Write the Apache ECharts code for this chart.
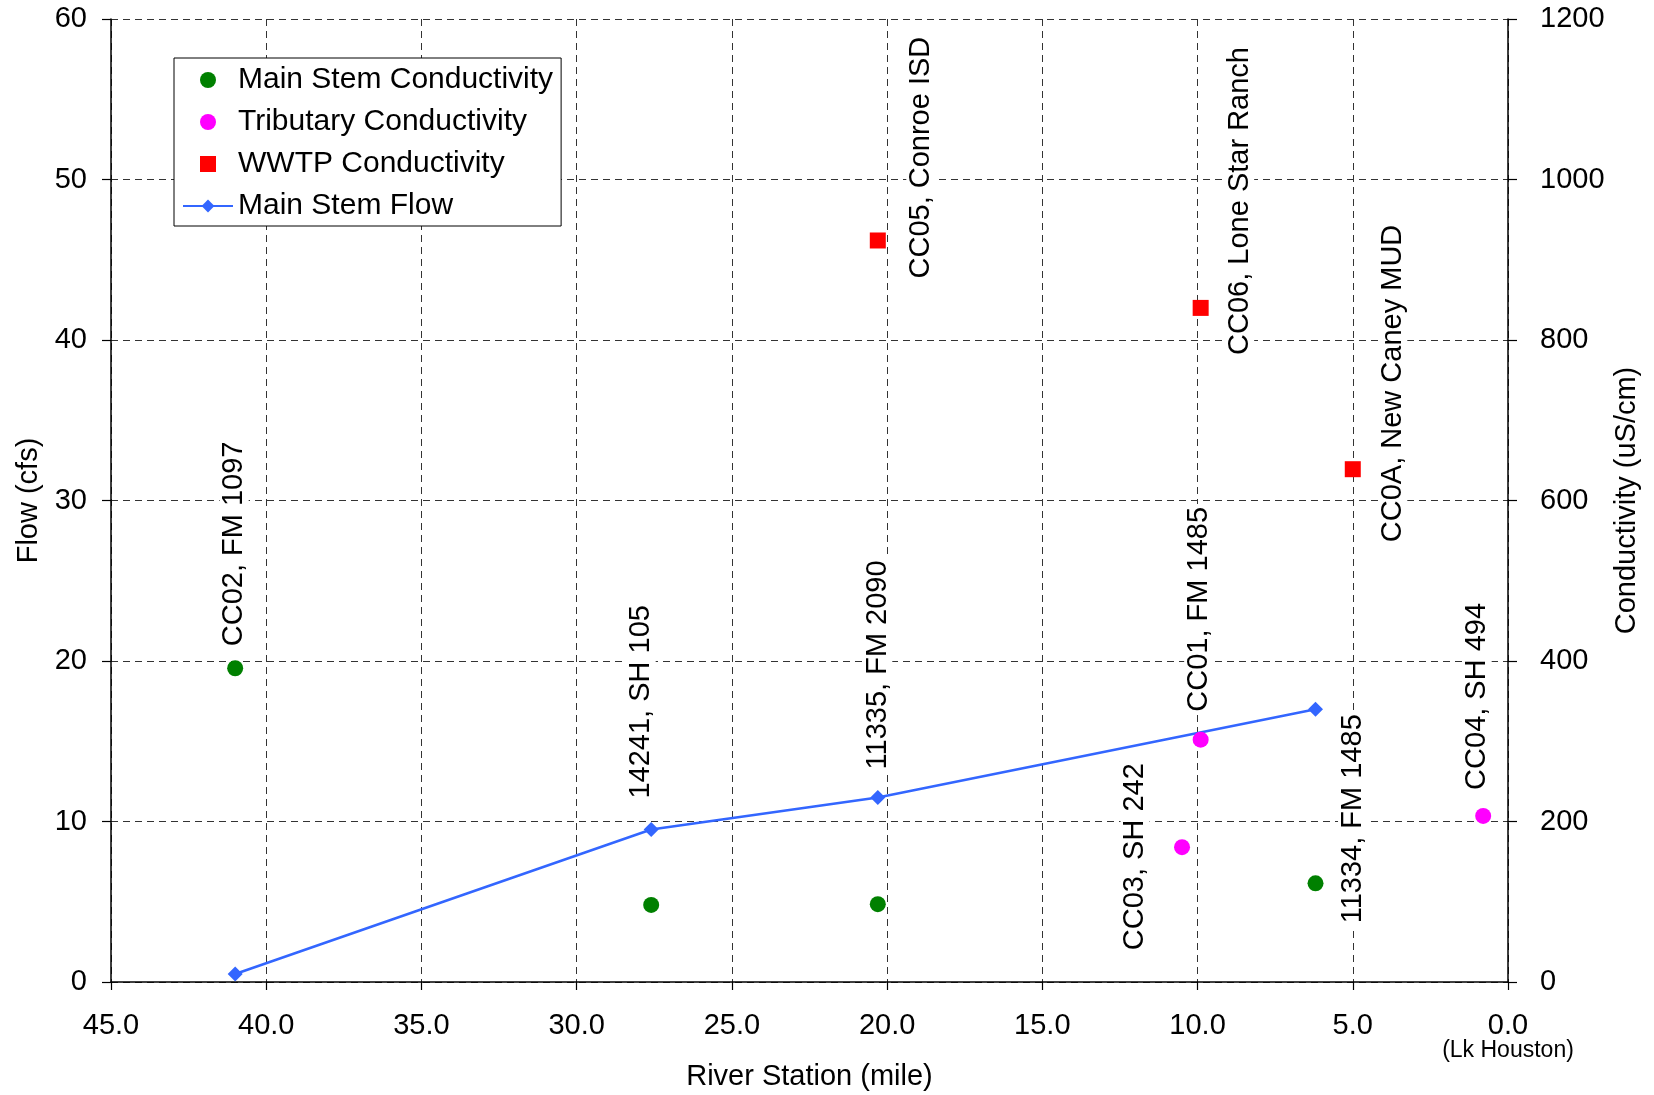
<!DOCTYPE html>
<html><head><meta charset="utf-8">
<script src="https://cdn.jsdelivr.net/npm/echarts@6/dist/echarts.min.js"></script>
<style>html,body{margin:0;padding:0;background:#fff}#c{width:1654px;height:1095px}</style>
</head><body><div id="c"></div>
<script>
// ---- data ----
const flowStations = [41.0, 27.6, 20.3, 6.2];
const flowValues = [0.5, 9.5, 11.5, 17.0];
const flowLabels = ['', '14241, SH 105', '11335, FM 2090', ''];

const mainStations = [41.0, 27.6, 20.3, 6.2];
const mainCond = [391, 96, 97, 123];
const mainLabels = ['CC02, FM 1097', '', '', '11334, FM 1485'];

const tribStations = [9.9, 10.5, 0.8];
const tribCond = [302, 168, 207];
const tribLabels = ['CC01, FM 1485', 'CC03, SH 242', 'CC04, SH 494'];

const wwtpStations = [20.3, 9.9, 5.0];
const wwtpCond = [924, 840, 639];
const wwtpLabels = ['CC05, Conroe ISD', 'CC06, Lone Star Ranch', 'CC0A, New Caney MUD'];

const seriesNames = ['Main Stem Conductivity', 'Tributary Conductivity', 'WWTP Conductivity', 'Main Stem Flow'];
const xTitle = 'River Station (mile)';
const yLeftTitle = 'Flow (cfs)';
const yRightTitle = 'Conductivity (uS/cm)';
const xZeroNote = '(Lk Houston)';

// ---- label placement (screen px from point to bottom-centre of rotated text) ----
const flowLabelOff = [null, [-10, -28], [0, -25], null];
const mainLabelOff = [[-1, -19], null, null, [37, 43]];
const tribLabelOff = [[-2, -25], [-47, 106], [-6, -23]];
const wwtpLabelOff = [[43, 41], [39, 50], [40, 76]];

const FONT = '"Liberation Sans", Arial, Helvetica, sans-serif';
const FS = 29;

function labelOpt(text, off, size) {
  if (!text || !off) return { show: false };
  return {
    show: true, formatter: text, rotate: 90,
    position: [size / 2 + off[0], size / 2 + off[1]],
    align: 'left', verticalAlign: 'middle',
    fontSize: FS, fontFamily: FONT, color: '#000',
    backgroundColor: '#fff', padding: [0, 3, 0, 3]
  };
}
function build(xs, ys, labels, offs, size) {
  return xs.map((x, i) => ({ value: [x, ys[i]], label: labelOpt(labels[i], offs[i], size) }));
}

const chart = echarts.init(document.getElementById('c'), null, { renderer: 'canvas' });
const gridLine = { show: true, lineStyle: { color: '#333', width: 1, type: [7, 5] } };
const SQUARE = 'path://M0,0L10,0L10,10L0,10Z';

chart.setOption({
  animation: false,
  backgroundColor: '#fff',
  textStyle: { fontFamily: FONT },
  grid: { left: 111, right: 146, top: 19, bottom: 113, containLabel: false, outerBoundsMode: 'none' },
  legend: {
    orient: 'vertical', left: 174, top: 58,
    padding: [7, 8, 5, 8], itemGap: 12,
    itemWidth: 50, itemHeight: 16, symbolKeepAspect: true,
    backgroundColor: '#fff', borderColor: '#000', borderWidth: 1, borderRadius: 0,
    textStyle: { fontSize: 30, fontFamily: FONT, color: '#000' },
    data: [
      { name: seriesNames[0] },
      { name: seriesNames[1] },
      { name: seriesNames[2], icon: SQUARE },
      { name: seriesNames[3] }
    ]
  },
  xAxis: {
    type: 'value', min: 0, max: 45, interval: 5, inverse: true,
    name: xTitle, nameLocation: 'middle', nameGap: 80, nameMoveOverlap: false,
    nameTextStyle: { fontSize: FS, fontFamily: FONT, color: '#000' },
    axisLine: { show: true, onZero: false, lineStyle: { color: '#000', width: 1.5 } },
    axisTick: { show: true, inside: false, length: 8, lineStyle: { color: '#000', width: 1.2 } },
    axisLabel: {
      margin: 29, fontSize: FS, fontFamily: FONT, color: '#000',
      formatter: v => v === 0 ? v.toFixed(1) + '\n{s|' + xZeroNote + '}' : v.toFixed(1),
      rich: { s: { fontSize: 23, fontFamily: FONT, color: '#000', lineHeight: 22 } }
    },
    splitLine: gridLine
  },
  yAxis: [{
    type: 'value', position: 'left', min: 0, max: 60, interval: 10,
    name: yLeftTitle, nameLocation: 'middle', nameGap: 68, nameRotate: 90, nameMoveOverlap: false,
    nameTextStyle: { fontSize: FS, fontFamily: FONT, color: '#000' },
    axisLine: { show: true, onZero: false, lineStyle: { color: '#000', width: 1.5 } },
    axisTick: { show: true, inside: false, length: 9, lineStyle: { color: '#000', width: 1.2 } },
    axisLabel: { margin: 24, fontSize: FS, fontFamily: FONT, color: '#000', formatter: v => String(v) },
    splitLine: gridLine
  }, {
    type: 'value', position: 'right', min: 0, max: 1200, interval: 200,
    name: yRightTitle, nameLocation: 'middle', nameGap: 104, nameRotate: 90, nameMoveOverlap: false,
    nameTextStyle: { fontSize: FS, fontFamily: FONT, color: '#000' },
    axisLine: { show: true, onZero: false, lineStyle: { color: '#000', width: 1.5 } },
    axisTick: { show: true, inside: false, length: 9, lineStyle: { color: '#000', width: 1.2 } },
    axisLabel: { margin: 32, fontSize: FS, fontFamily: FONT, color: '#000', formatter: v => String(v) },
    splitLine: { show: false }
  }],
  series: [{
    name: seriesNames[3], type: 'line', yAxisIndex: 0, z: 2,
    symbol: 'diamond', symbolSize: 15, showAllSymbol: true,
    itemStyle: { color: '#3366FF', opacity: 1 },
    lineStyle: { color: '#3366FF', width: 2.5 },
    data: build(flowStations, flowValues, flowLabels, flowLabelOff, 15)
  }, {
    name: seriesNames[0], type: 'scatter', yAxisIndex: 1, z: 3,
    symbol: 'circle', symbolSize: 16, itemStyle: { color: '#008000', opacity: 1 },
    data: build(mainStations, mainCond, mainLabels, mainLabelOff, 16)
  }, {
    name: seriesNames[1], type: 'scatter', yAxisIndex: 1, z: 3,
    symbol: 'circle', symbolSize: 16, itemStyle: { color: '#FF00FF', opacity: 1 },
    data: build(tribStations, tribCond, tribLabels, tribLabelOff, 16)
  }, {
    name: seriesNames[2], type: 'scatter', yAxisIndex: 1, z: 3,
    symbol: 'rect', symbolSize: 16, itemStyle: { color: '#FF0000', opacity: 1 },
    data: build(wwtpStations, wwtpCond, wwtpLabels, wwtpLabelOff, 16)
  }]
});
</script>
</body></html>
